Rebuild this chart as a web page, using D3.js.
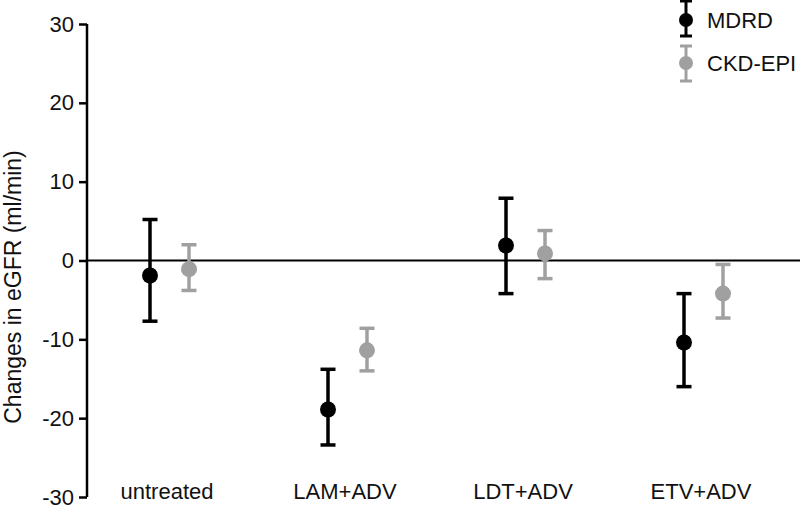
<!DOCTYPE html>
<html><head><meta charset="utf-8">
<script src="https://cdn.jsdelivr.net/npm/d3@7"></script>
<style>body{margin:0;background:#fff}svg{display:block}text{font-family:Arial,"Liberation Sans",sans-serif}</style>
</head><body><svg id="c" width="800" height="514"></svg>
<script>
const categories = ["untreated","LAM+ADV","LDT+ADV","ETV+ADV"];
const seriesNames = ["MDRD","CKD-EPI"];
const mdrdMean = [-1.9,-18.9,1.9,-10.4];
const mdrdLow  = [-7.7,-23.4,-4.2,-16.0];
const mdrdHigh = [5.2,-13.8,7.9,-4.2];
const ckdMean  = [-1.1,-11.4,0.9,-4.2];
const ckdLow   = [-3.8,-14.0,-2.3,-7.3];
const ckdHigh  = [2.0,-8.6,3.8,-0.5];
const yTicks = [-30,-20,-10,0,10,20,30];
const colors = ["#000000","#a0a0a0"];

const svg = d3.select("#c");
const x = d3.scaleBand().domain(categories).range([78,790]).paddingInner(0).paddingOuter(0);
const off = d3.scalePoint().domain(seriesNames).range([-19,20]);
const y = d3.scaleLinear().domain([-30,30]).range([497,24]);

const axisX = 87;
const yAxis = d3.axisLeft(y).tickValues(yTicks).tickSize(8).tickPadding(5).tickFormat(d=>String(d));
const ga = svg.append("g").attr("transform",`translate(${axisX},0)`).call(yAxis);
ga.select(".domain").attr("stroke","#000").attr("stroke-width",2.5).attr("d",`M0,${y(-30)}V${y(30)}`);
ga.selectAll(".tick line").attr("stroke","#000").attr("stroke-width",2.5);
ga.selectAll(".tick text").attr("font-size",22).attr("fill","#111").attr("font-family","Arial,'Liberation Sans',sans-serif");

// zero line
svg.append("line").attr("x1",axisX).attr("x2",800).attr("y1",y(0)).attr("y2",y(0)).attr("stroke","#000").attr("stroke-width",2);

// axis title
svg.append("text").attr("transform",`translate(20.5,287) rotate(-90)`).attr("text-anchor","middle")
  .attr("font-size",23).attr("fill","#111").text("Changes in eGFR (ml/min)");

// category labels
svg.selectAll("text.cat").data(categories).join("text").attr("class","cat")
  .attr("x",d=>x(d)+x.bandwidth()/2).attr("y",499).attr("text-anchor","middle")
  .attr("font-size",22).attr("fill","#111").text(d=>d);

const series = [
  {name:"MDRD", mean:mdrdMean, low:mdrdLow, high:mdrdHigh, color:colors[0]},
  {name:"CKD-EPI", mean:ckdMean, low:ckdLow, high:ckdHigh, color:colors[1]}
];
const cap = 7.5;
series.forEach(s=>{
  const g = svg.append("g");
  categories.forEach((c,i)=>{
    const cx = x(c)+x.bandwidth()/2+off(s.name)+2;
    g.append("line").attr("x1",cx).attr("x2",cx).attr("y1",y(s.low[i])).attr("y2",y(s.high[i])).attr("stroke",s.color).attr("stroke-width",3.5);
    [s.low[i],s.high[i]].forEach(v=>g.append("line").attr("x1",cx-cap).attr("x2",cx+cap).attr("y1",y(v)).attr("y2",y(v)).attr("stroke",s.color).attr("stroke-width",3.5));
    g.append("circle").attr("cx",cx).attr("cy",y(s.mean[i])).attr("r",8).attr("fill",s.color);
  });
});

// legend
const leg = svg.append("g");
[{n:"MDRD",c:colors[0],cy:20,t:1,b:36},{n:"CKD-EPI",c:colors[1],cy:63,t:46,b:81}].forEach(l=>{
  const lx = 686;
  leg.append("line").attr("x1",lx).attr("x2",lx).attr("y1",l.t).attr("y2",l.b).attr("stroke",l.c).attr("stroke-width",3);
  [l.t,l.b].forEach(v=>leg.append("line").attr("x1",lx-6).attr("x2",lx+6).attr("y1",v).attr("y2",v).attr("stroke",l.c).attr("stroke-width",3));
  leg.append("circle").attr("cx",lx).attr("cy",l.cy).attr("r",7).attr("fill",l.c);
  leg.append("text").attr("x",707).attr("y",l.cy).attr("dominant-baseline","central").attr("font-size",22).attr("fill","#111").text(l.n);
});
</script></body></html>
